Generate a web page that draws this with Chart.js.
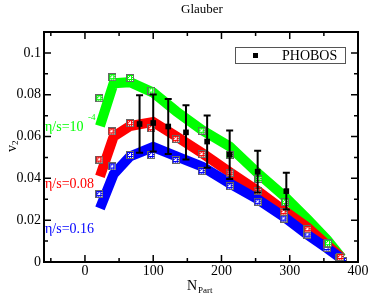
<!DOCTYPE html>
<html>
<head>
<meta charset="utf-8">
<script src="https://cdn.jsdelivr.net/npm/chart.js@4.4.1/dist/chart.umd.min.js"></script>
<style>
  body { margin: 0; background: #fff; }
  canvas { display: block; }
</style>
</head>
<body>
<canvas id="v2Chart" width="370" height="295"></canvas>
<script>
// --- data ---
const xTicks = [0, 100, 200, 300, 400];
const yTicks = [0, 0.02, 0.04, 0.06, 0.08, 0.1];

// hydro curves (thick lines)
const curveX = [22, 42, 66, 100, 134, 172, 212, 253, 292, 326, 355, 376];
const greenCurve = [0.065, 0.0855, 0.086, 0.081, 0.072, 0.063, 0.0552, 0.0425, 0.0315, 0.0205, 0.0105, 0.002];
const redCurve = [0.041, 0.060, 0.065, 0.067, 0.060, 0.052, 0.043, 0.034, 0.0245, 0.0165, 0.008, 0.002];
const blueCurve = [0.0256, 0.042, 0.0505, 0.055, 0.0505, 0.0456, 0.0376, 0.030, 0.0215, 0.013, 0.0065, 0.0015];

// checkered markers
const greenMarkX = [21, 40, 66, 97, 171, 212, 254, 293, 356];
const greenMarkY = [0.0784, 0.0884, 0.088, 0.082, 0.0628, 0.0512, 0.0397, 0.0288, 0.009];
const redMarkX = [21, 39, 66, 97, 133, 171, 212, 253, 291, 326, 354, 374];
const redMarkY = [0.049, 0.0625, 0.0664, 0.064, 0.0589, 0.0516, 0.0427, 0.034, 0.024, 0.0157, 0.0088, 0.0024];
const blueMarkX = [21, 40, 66, 97, 133, 171, 212, 253, 291, 326, 354, 372, 378];
const blueMarkY = [0.0325, 0.0457, 0.0512, 0.0512, 0.0488, 0.0435, 0.0363, 0.0288, 0.0208, 0.0131, 0.0067, 0.0018, 0.0005];

// PHOBOS data with error bars
const phobosX = [80, 100, 122, 148, 179, 212, 253, 295];
const phobosY = [0.066, 0.0665, 0.0648, 0.062, 0.0576, 0.0513, 0.0432, 0.0339];
const phobosErr = [0.0138, 0.0136, 0.0132, 0.013, 0.0125, 0.0116, 0.0100, 0.0088];

const SERIF = "'Liberation Serif', 'DejaVu Serif', serif";
const GREEN = "#00ff00", RED = "#ff0000", BLUE = "#0000ff";

const zip = (xs, ys) => xs.map((x, i) => ({ x: x, y: ys[i] }));

// small checkered square used as marker (grace-like pattern fill)
function checkerMarker(color) {
    const c = document.createElement("canvas");
    c.width = 8; c.height = 8;
    const g = c.getContext("2d");
    g.fillStyle = "#666";
    g.fillRect(0, 0, 8, 8);
    g.fillStyle = color;
    g.fillRect(1, 1, 6, 6);
    g.fillStyle = "#fff";
    for (let i = 1; i < 7; i++) {
        for (let j = 1; j < 7; j++) {
            if (i % 2 === 0 && j % 2 === 0) g.fillRect(i, j, 1, 1);
            if ((i === 3 || i === 4) && (j === 3 || j === 4)) g.fillRect(i, j, 1, 1);
        }
    }
    return c;
}

const lineSet = (data, color, order) => ({
    data: data, borderColor: color, borderWidth: 10, pointRadius: 0,
    fill: false, tension: 0, showLine: true, order: order
});
const markSet = (data, color) => ({
    data: data, showLine: false, pointStyle: checkerMarker(color), pointRadius: 4, order: 2
});

// error bars + frame + inward ticks + texts
const decorations = {
    id: "decorations",
    afterDatasetsDraw(chart) {
        const ctx = chart.ctx;
        const xs = chart.scales.x, ys = chart.scales.y;
        const a = chart.chartArea;

        // error bars
        ctx.save();
        ctx.strokeStyle = "#000";
        ctx.lineWidth = 2;
        phobosX.forEach((x, i) => {
            const px = xs.getPixelForValue(x);
            const top = ys.getPixelForValue(phobosY[i] + phobosErr[i]);
            const bot = ys.getPixelForValue(phobosY[i] - phobosErr[i]);
            ctx.beginPath();
            ctx.moveTo(px, top); ctx.lineTo(px, bot);
            ctx.moveTo(px - 3.5, top); ctx.lineTo(px + 3.5, top);
            ctx.moveTo(px - 3.5, bot); ctx.lineTo(px + 3.5, bot);
            ctx.stroke();
        });

        // frame
        ctx.lineWidth = 2;
        ctx.strokeRect(a.left, a.top, a.right - a.left, a.bottom - a.top);

        // inward ticks
        ctx.lineWidth = 1.5;
        ctx.beginPath();
        for (let v = -50; v <= 400; v += 50) {
            const px = xs.getPixelForValue(v);
            const len = v % 100 === 0 ? 7 : 4;
            ctx.moveTo(px, a.bottom); ctx.lineTo(px, a.bottom - len);
            ctx.moveTo(px, a.top); ctx.lineTo(px, a.top + len);
        }
        for (let k = 0; k <= 11; k++) {
            const py = ys.getPixelForValue(k * 0.01);
            const len = k % 2 === 0 ? 7 : 4;
            ctx.moveTo(a.left, py); ctx.lineTo(a.left + len, py);
            ctx.moveTo(a.right, py); ctx.lineTo(a.right - len, py);
        }
        ctx.stroke();

        // title
        ctx.fillStyle = "#000";
        ctx.textBaseline = "middle";
        ctx.textAlign = "center";
        ctx.font = "13px " + SERIF;
        ctx.fillText("Glauber", 202, 10);

        // x axis title
        ctx.textAlign = "left";
        ctx.font = "14px " + SERIF;
        ctx.fillText("N", 187, 286);
        ctx.font = "9px " + SERIF;
        ctx.fillText("Part", 198, 291);

        // y axis title
        ctx.save();
        ctx.translate(12, 152);
        ctx.rotate(-Math.PI / 2);
        ctx.font = "14px " + SERIF;
        ctx.fillText("v", 0, 0);
        ctx.font = "9px " + SERIF;
        ctx.fillText("2", 7, 4);
        ctx.restore();

        // curve labels
        ctx.font = "14px " + SERIF;
        ctx.fillStyle = GREEN;
        ctx.fillText("\u03b7/s=10", 45, 127);
        ctx.font = "9px " + SERIF;
        ctx.fillText("-4", 88, 118);
        ctx.font = "14px " + SERIF;
        ctx.fillStyle = RED;
        ctx.fillText("\u03b7/s=0.08", 45, 184);
        ctx.fillStyle = BLUE;
        ctx.fillText("\u03b7/s=0.16", 45, 229);

        // legend
        ctx.fillStyle = "#fff";
        ctx.fillRect(235, 47, 110, 16);
        ctx.strokeStyle = "#555";
        ctx.lineWidth = 1;
        ctx.strokeRect(235.5, 47.5, 110, 16);
        ctx.fillStyle = "#000";
        ctx.fillRect(253, 53, 5, 5);
        ctx.font = "14px " + SERIF;
        ctx.fillText("PHOBOS", 282, 56);
        ctx.restore();
    }
};

new Chart(document.getElementById("v2Chart"), {
    type: "scatter",
    data: {
        datasets: [
            lineSet(zip(curveX, greenCurve), GREEN, 5),
            lineSet(zip(curveX, redCurve), RED, 4),
            lineSet(zip(curveX, blueCurve), BLUE, 3),
            markSet(zip(greenMarkX, greenMarkY), GREEN),
            markSet(zip(redMarkX, redMarkY), RED),
            markSet(zip(blueMarkX, blueMarkY), BLUE),
            {
                data: zip(phobosX, phobosY), showLine: false, pointStyle: "rect",
                pointRadius: 4, backgroundColor: "#000", borderColor: "#000", borderWidth: 0, order: 1
            }
        ]
    },
    options: {
        responsive: false,
        animation: false,
        layout: { padding: { top: 32, right: 12, left: 0, bottom: 0 } },
        plugins: { legend: { display: false }, tooltip: { enabled: false } },
        scales: {
            x: {
                type: "linear", min: -60, max: 400,
                grid: { display: false, drawTicks: false },
                border: { display: false },
                afterBuildTicks: s => { s.ticks = xTicks.map(v => ({ value: v })); },
                afterFit: s => { s.height = 33; },
                ticks: { padding: 1, color: "#000", font: { family: SERIF, size: 14 }, maxRotation: 0 }
            },
            y: {
                type: "linear", min: 0, max: 0.11,
                grid: { display: false, drawTicks: false },
                border: { display: false },
                afterBuildTicks: s => { s.ticks = yTicks.map(v => ({ value: v })); },
                afterFit: s => { s.width = 44; },
                ticks: {
                    padding: 3, color: "#000", font: { family: SERIF, size: 14 },
                    callback: v => String(+v.toFixed(2))
                }
            }
        }
    },
    plugins: [decorations]
});
</script>
</body>
</html>
